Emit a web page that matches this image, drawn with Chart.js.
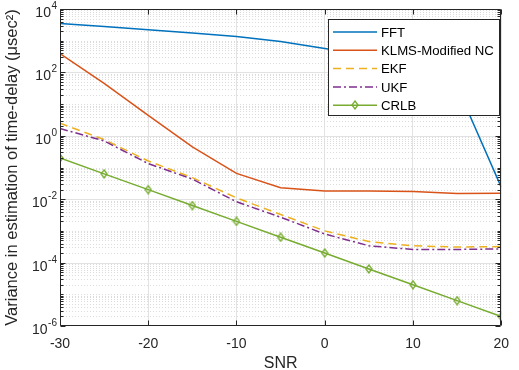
<!DOCTYPE html>
<html lang="en">
<head>
<meta charset="UTF-8" />
<title>Variance vs SNR</title>
<script src="https://cdn.jsdelivr.net/npm/chart.js"></script>
<style>
  html, body { margin: 0; padding: 0; background: #fff; }
</style>
</head>
<body>
<canvas id="chart" width="519" height="370"></canvas>
<script>
  // values (SNR in dB, variance in usec^2)
  const snr = [-30, -25, -20, -15, -10, -5, 0, 5, 10, 15, 20];
  const fft = [3500, 2800, 2200, 1750, 1350, 950, 570, 350, 180, 36, 0.024];
  const klms = [390, 45, 4.4, 0.45, 0.065, 0.023, 0.018, 0.018, 0.0175, 0.015, 0.0155];
  const ekf = [2.5, 0.76, 0.16, 0.048, 0.011, 0.0033, 0.001, 0.00046, 0.00034, 0.00031, 0.00032];
  const ukf = [1.7, 0.69, 0.133, 0.043, 0.0083, 0.0027, 0.0008, 0.00034, 0.00026, 0.00026, 0.00027];
  const crlb = [0.2, 0.063, 0.02, 0.0063, 0.002, 0.00063, 0.0002, 0.000063, 0.00002, 0.0000063, 0.000002];
  const seriesNames = ["FFT", "KLMS-Modified NC", "EKF", "UKF", "CRLB"];
  const yExponents = [-6, -4, -2, 0, 2, 4];
  const xTicks = [-30, -20, -10, 0, 10, 20];

  const FONT = "'Liberation Sans', Arial, Helvetica, sans-serif";
  const AXIS = "#262626";

  function diamond(w, h, color) {
    const c = document.createElement("canvas");
    c.width = w + 2; c.height = h + 2;
    const g = c.getContext("2d");
    g.strokeStyle = color;
    g.lineWidth = 1.3;
    g.beginPath();
    g.moveTo(c.width / 2, 1);
    g.lineTo(c.width - 1, c.height / 2);
    g.lineTo(c.width / 2, c.height - 1);
    g.lineTo(1, c.height / 2);
    g.closePath();
    g.stroke();
    return c;
  }
  const marker = diamond(6, 8, "#77AC30");

  function pts(arr) {
    return arr.map((v, i) => ({ x: snr[i], y: v }));
  }

  const datasets = [
    { label: seriesNames[0], data: pts(fft), borderColor: "#0072BD", borderDash: [], order: 5, pointRadius: 0 },
    { label: seriesNames[1], data: pts(klms), borderColor: "#D95319", borderDash: [], order: 4, pointRadius: 0 },
    { label: seriesNames[2], data: pts(ekf), borderColor: "#EDB120", borderDash: [8, 5], order: 3, pointRadius: 0 },
    { label: seriesNames[3], data: pts(ukf), borderColor: "#7E2F8E", borderDash: [8, 3, 2, 3], order: 2, pointRadius: 0 },
    { label: seriesNames[4], data: pts(crlb), borderColor: "#77AC30", borderDash: [], order: 1, pointRadius: 4, pointStyle: marker }
  ].map(d => Object.assign({ borderWidth: 1.5, fill: false, tension: 0, backgroundColor: d.borderColor }, d));

  const frame = {
    id: "frame",
    beforeDatasetsDraw(chart) {
      const { ctx, chartArea: a, scales: { y } } = chart;
      ctx.save();
      for (let e = -6; e < 4; e++) {
        for (let m = 1; m <= 9; m++) {
          const v = m * Math.pow(10, e);
          if (e === -6 && m === 1) continue;
          const py = Math.round(y.getPixelForValue(v)) + 0.5;
          const major = m === 1 && yExponents.includes(e);
          ctx.beginPath();
          ctx.strokeStyle = major ? "#e2e2e2" : "#dcdcdc";
          ctx.lineWidth = 1;
          ctx.setLineDash(major ? [] : [1, 2]);
          ctx.moveTo(a.left, py);
          ctx.lineTo(a.right, py);
          ctx.stroke();
        }
      }
      ctx.restore();
    },
    afterDraw(chart) {
      const { ctx, chartArea: a, scales: { x, y } } = chart;
      ctx.save();
      const L = Math.round(a.left) + 0.5, R = Math.round(a.right) - 0.5;
      const T = Math.round(a.top) + 0.5, B = Math.round(a.bottom) - 0.5;

      // ticks pointing inward
      ctx.strokeStyle = AXIS;
      ctx.lineWidth = 1;
      ctx.beginPath();
      xTicks.forEach(v => {
        const px = Math.round(x.getPixelForValue(v)) + 0.5;
        ctx.moveTo(px, B); ctx.lineTo(px, B - 5);
        ctx.moveTo(px, T); ctx.lineTo(px, T + 5);
      });
      for (let e = -6; e <= 4; e++) {
        for (let m = 1; m <= 9; m++) {
          if (e === 4 && m > 1) break;
          const py = Math.round(y.getPixelForValue(m * Math.pow(10, e))) + 0.5;
          const len = (m === 1 && yExponents.includes(e)) ? 5 : 3;
          ctx.moveTo(L, py); ctx.lineTo(L + len, py);
          ctx.moveTo(R, py); ctx.lineTo(R - len, py);
        }
      }
      ctx.stroke();

      // box
      ctx.beginPath();
      ctx.rect(L, T, R - L, B - T);
      ctx.stroke();

      // y tick labels 10^n
      ctx.fillStyle = AXIS;
      ctx.textAlign = "right";
      ctx.textBaseline = "alphabetic";
      yExponents.forEach(e => {
        const py = y.getPixelForValue(Math.pow(10, e));
        ctx.font = "10px " + FONT;
        const sup = String(e);
        const sw = ctx.measureText(sup).width;
        ctx.fillText(sup, 57, py);
        ctx.font = "14px " + FONT;
        ctx.fillText("10", 57 - sw - 0.5, py + 8);
      });

      // legend
      const lx = 328.5, ly = 19.5, lw = 171, lh = 96;
      ctx.fillStyle = "#fff";
      ctx.fillRect(lx, ly, lw, lh);
      ctx.strokeStyle = AXIS;
      ctx.lineWidth = 1;
      ctx.strokeRect(lx, ly, lw, lh);
      ctx.font = "13.2px " + FONT;
      ctx.textAlign = "left";
      ctx.textBaseline = "middle";
      chart.data.datasets.forEach((d, i) => {
        const cy = 32 + i * 18.3;
        ctx.strokeStyle = d.borderColor;
        ctx.lineWidth = 1.5;
        ctx.setLineDash(d.borderDash);
        ctx.beginPath();
        ctx.moveTo(333, cy);
        ctx.lineTo(377, cy);
        ctx.stroke();
        ctx.setLineDash([]);
        if (d.pointRadius > 0) {
          ctx.drawImage(d.pointStyle, 355 - d.pointStyle.width / 2, Math.round(cy) - d.pointStyle.height / 2);
        }
        ctx.fillStyle = "#000";
        ctx.fillText(d.label, 381, cy + 1);
      });
      ctx.restore();
    }
  };

  new Chart(document.getElementById("chart"), {
    type: "line",
    data: { datasets: datasets },
    options: {
      responsive: false,
      animation: false,
      devicePixelRatio: 1,
      layout: { padding: { top: 9, right: 8, left: 0, bottom: 0 } },
      plugins: { legend: { display: false }, tooltip: { enabled: false } },
      scales: {
        x: {
          type: "linear",
          min: -30,
          max: 20,
          afterFit: s => { s.height = 44; },
          afterBuildTicks: s => { s.ticks = xTicks.map(v => ({ value: v })); },
          grid: { color: "#e2e2e2", drawTicks: false },
          border: { display: false },
          ticks: { color: AXIS, padding: 10, font: { family: FONT, size: 14 }, maxRotation: 0 },
          title: { display: true, text: "SNR", color: AXIS, font: { family: FONT, size: 16, lineHeight: 0.75 }, padding: 0 }
        },
        y: {
          type: "logarithmic",
          min: 1e-6,
          max: 1e4,
          afterFit: s => { s.width = 60; },
          grid: { display: false },
          border: { display: false },
          ticks: { display: false },
          title: { display: true, text: "Variance in estimation of time-delay (\u03bcsec\u00b2)", color: AXIS, font: { family: FONT, size: 16.5 }, padding: { top: 3, bottom: 0 } }
        }
      }
    },
    plugins: [frame]
  });
</script>
</body>
</html>
